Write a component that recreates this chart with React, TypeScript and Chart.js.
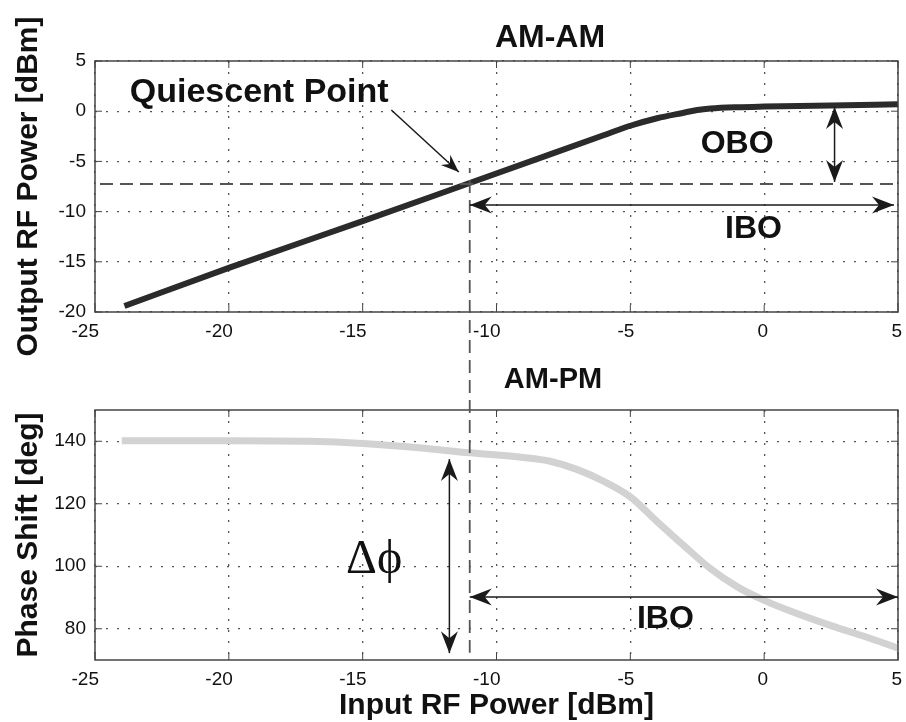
import React, { useEffect, useRef } from "react";
import { Chart, registerables } from "chart.js";

Chart.register(...registerables);

// ---------------- data ----------------
const X_TICKS = [-25, -20, -15, -10, -5, 0, 5];
const AMAM_TICKS = [-20, -15, -10, -5, 0, 5];
const AMPM_TICKS = [80, 100, 120, 140];

const AMAM_IN = [-23.9, -20, -15, -11, -8, -6, -5, -4, -3, -2.5, -2, -1, 0, 2.5, 5];
const AMAM_OUT = [-19.4, -15.6, -10.95, -7.15, -4.3, -2.4, -1.45, -0.7, -0.15, 0.12, 0.27, 0.4, 0.46, 0.56, 0.7];

const AMPM_IN = [-24, -20, -17, -15, -13, -11, -9, -8, -7, -6, -5, -4, -3, -2, -1, 0, 1, 2.5, 4, 5];
const AMPM_PHASE = [140.2, 140.2, 140, 139.3, 138, 136.3, 134.8, 133.6, 131, 127.2, 122.2, 114.3, 106.6, 99.2, 93.4, 89.1, 85.6, 81.0, 76.8, 73.8];

// annotation values (data units)
const Q_IN = -11;
const Q_OUT = -7.25;
const Q_MARK_TOP = -5.66;
const OBO_X = 2.63;
const OBO_TOP = 0.42;
const OBO_BOTTOM = -7.05;
const IBO_END = 4.85;
const IBO_AMAM_Y = -9.34;
const IBO_AMPM_Y = 90.2;
const DPHI_X = -11.76;
const DPHI_TOP = 134.3;
const DPHI_BOTTOM = 72.2;

const SANS = '"Liberation Sans", Arial, Helvetica, sans-serif';
const SERIF = '"Liberation Serif", "Times New Roman", serif';
const TEXT = "#111";

// ---------------- drawing helpers ----------------
function head(ctx: CanvasRenderingContext2D, tx: number, ty: number, fx: number, fy: number, len: number, half: number, notch: number) {
  const a = Math.atan2(ty - fy, tx - fx);
  const c = Math.cos(a), s = Math.sin(a);
  const bx = tx - len * c, by = ty - len * s;
  const nx = tx - notch * c, ny = ty - notch * s;
  ctx.beginPath();
  ctx.moveTo(tx, ty);
  ctx.lineTo(bx - half * s, by + half * c);
  ctx.lineTo(nx, ny);
  ctx.lineTo(bx + half * s, by - half * c);
  ctx.closePath();
  ctx.fill();
}

function arrow(ctx: CanvasRenderingContext2D, x1: number, y1: number, x2: number, y2: number, both: boolean, small = false) {
  ctx.save();
  ctx.setLineDash([]);
  ctx.strokeStyle = "#1a1a1a";
  ctx.fillStyle = "#1a1a1a";
  ctx.lineWidth = 1.5;
  ctx.beginPath();
  ctx.moveTo(x1, y1);
  ctx.lineTo(x2, y2);
  ctx.stroke();
  const L = small ? 18 : 22, H = small ? 7 : 8.5, N = small ? 12 : 15;
  head(ctx, x2, y2, x1, y1, L, H, N);
  if (both) head(ctx, x1, y1, x2, y2, L, H, N);
  ctx.restore();
}

function dashed(ctx: CanvasRenderingContext2D, x1: number, y1: number, x2: number, y2: number, phase: number) {
  ctx.save();
  ctx.strokeStyle = "#555";
  ctx.lineWidth = 1.8;
  ctx.setLineDash([13, 7]);
  ctx.lineDashOffset = ((phase % 20) + 20) % 20;
  ctx.beginPath();
  ctx.moveTo(x1, y1);
  ctx.lineTo(x2, y2);
  ctx.stroke();
  ctx.restore();
}

function label(ctx: CanvasRenderingContext2D, s: string, x: number, y: number, font: string, align: CanvasTextAlign = "center") {
  ctx.save();
  ctx.font = font;
  ctx.fillStyle = TEXT;
  ctx.textAlign = align;
  ctx.textBaseline = "alphabetic";
  ctx.fillText(s, x, y);
  ctx.restore();
}

const framePlugin = {
  id: "frame",
  afterDatasetsDraw(chart: any) {
    const { ctx, chartArea: a, scales } = chart;
    ctx.save();
    ctx.setLineDash([]);
    ctx.strokeStyle = "#444";
    ctx.lineWidth = 1.5;
    ctx.strokeRect(a.left, a.top, a.right - a.left, a.bottom - a.top);
    ctx.lineWidth = 1;
    const T = 7;
    ctx.beginPath();
    scales.x.ticks.forEach((t: any) => {
      const p = scales.x.getPixelForValue(t.value);
      ctx.moveTo(p, a.bottom); ctx.lineTo(p, a.bottom - T);
      ctx.moveTo(p, a.top); ctx.lineTo(p, a.top + T);
    });
    scales.y.ticks.forEach((t: any) => {
      const p = scales.y.getPixelForValue(t.value);
      ctx.moveTo(a.left, p); ctx.lineTo(a.left + T, p);
      ctx.moveTo(a.right, p); ctx.lineTo(a.right - T, p);
    });
    ctx.stroke();
    ctx.restore();
  },
};

const TOP_CANVAS_H = 372;
const BOTTOM_CANVAS_TOP = 340;
const BOTTOM_CANVAS_H = 382;
const JOIN_Y = 356; // page y where the quiescent marker passes from one canvas to the other

const topAnnotations = {
  id: "amamAnnotations",
  afterDatasetsDraw(chart: any) {
    const { ctx, scales } = chart;
    const X = (v: number) => scales.x.getPixelForValue(v);
    const Y = (v: number) => scales.y.getPixelForValue(v);
    dashed(ctx, X(-25), Y(Q_OUT), X(5), Y(Q_OUT), X(-25));
    dashed(ctx, X(Q_IN), Y(Q_MARK_TOP), X(Q_IN), JOIN_Y, Y(Q_MARK_TOP));
    arrow(ctx, X(-13.93), Y(0.12), X(-11.41), Y(-6.06), false, true);
    arrow(ctx, X(OBO_X), Y(OBO_TOP), X(OBO_X), Y(OBO_BOTTOM), true);
    arrow(ctx, X(Q_IN), Y(IBO_AMAM_Y), X(IBO_END), Y(IBO_AMAM_Y), true);
    label(ctx, "Quiescent Point", X(-23.7), Y(0.95), `bold 34px ${SANS}`, "left");
    label(ctx, "OBO", X(-1.01), Y(-4.19), `bold 32px ${SANS}`);
    label(ctx, "IBO", X(-0.4), Y(-12.63), `bold 32px ${SANS}`);
    label(ctx, "AM-AM", 550, 47, `bold 32px ${SANS}`);
  },
};

const bottomAnnotations = {
  id: "ampmAnnotations",
  afterDatasetsDraw(chart: any) {
    const { ctx, scales } = chart;
    const X = (v: number) => scales.x.getPixelForValue(v);
    const Y = (v: number) => scales.y.getPixelForValue(v);
    const startY = JOIN_Y - BOTTOM_CANVAS_TOP;
    dashed(ctx, X(Q_IN), startY, X(Q_IN), Y(DPHI_BOTTOM + 0.1), JOIN_Y);
    arrow(ctx, X(DPHI_X), Y(DPHI_TOP), X(DPHI_X), Y(DPHI_BOTTOM), true);
    arrow(ctx, X(Q_IN), Y(IBO_AMPM_Y), X(5), Y(IBO_AMPM_Y), true);
    label(ctx, "Δϕ", X(-14.57), Y(97.8), `48px ${SERIF}`);
    label(ctx, "IBO", X(-3.69), Y(80.2), `bold 32px ${SANS}`);
    label(ctx, "AM-PM", 553, 388 - BOTTOM_CANVAS_TOP, `bold 29px ${SANS}`);
  },
};

function xScale(height: number, withTitle: boolean) {
  return {
    type: "linear",
    min: -25,
    max: 5,
    afterBuildTicks: (s: any) => { s.ticks = X_TICKS.map((v) => ({ value: v })); },
    afterFit: (s: any) => { s.height = height; },
    grid: { color: "#555", lineWidth: 1.3, drawTicks: false },
    border: { display: false, dash: [2, 9] },
    ticks: {
      align: "end",
      labelOffset: 4,
      padding: 8,
      color: TEXT,
      autoSkip: false,
      maxRotation: 0,
      font: { family: SANS, size: 19 },
    },
    title: {
      display: withTitle,
      text: "Input RF Power [dBm]",
      color: TEXT,
      font: { family: SANS, size: 30, weight: "bold", lineHeight: 1 },
      padding: { top: 0, bottom: 1 },
    },
  };
}

function yScale(min: number, max: number, ticks: number[], title: string) {
  return {
    type: "linear",
    min,
    max,
    afterBuildTicks: (s: any) => { s.ticks = ticks.map((v) => ({ value: v })); },
    afterFit: (s: any) => { s.width = 95; },
    grid: { color: "#555", lineWidth: 1.3, drawTicks: false },
    border: { display: false, dash: [2, 9] },
    ticks: { padding: 9, color: TEXT, font: { family: SANS, size: 19 } },
    title: {
      display: true,
      text: title,
      color: TEXT,
      font: { family: SANS, size: 30, weight: "bold", lineHeight: 1 },
      padding: { top: 14, bottom: 0 },
    },
  };
}

const commonOptions = {
  responsive: false,
  animation: false,
  events: [],
  plugins: { legend: { display: false }, tooltip: { enabled: false }, title: { display: false } },
};

export default function App() {
  const topRef = useRef<HTMLCanvasElement>(null);
  const botRef = useRef<HTMLCanvasElement>(null);

  useEffect(() => {
    const c1 = new Chart(topRef.current as HTMLCanvasElement, {
      type: "line",
      data: {
        datasets: [
          {
            label: "AM-AM",
            data: AMAM_IN.map((x, i) => ({ x, y: AMAM_OUT[i] })),
            borderColor: "#2b2b2b",
            borderWidth: 6,
            pointRadius: 0,
            fill: false,
            cubicInterpolationMode: "monotone",
          },
        ],
      },
      options: {
        ...commonOptions,
        layout: { padding: { top: 61, right: 3, left: 0, bottom: 0 } },
        scales: {
          x: xScale(TOP_CANVAS_H - 312, false),
          y: yScale(-20, 5, AMAM_TICKS, "Output RF Power [dBm]"),
        },
      } as any,
      plugins: [framePlugin, topAnnotations],
    });

    const c2 = new Chart(botRef.current as HTMLCanvasElement, {
      type: "line",
      data: {
        datasets: [
          {
            label: "AM-PM",
            data: AMPM_IN.map((x, i) => ({ x, y: AMPM_PHASE[i] })),
            borderColor: "#d2d2d2",
            borderWidth: 7,
            pointRadius: 0,
            fill: false,
            cubicInterpolationMode: "monotone",
          },
        ],
      },
      options: {
        ...commonOptions,
        layout: { padding: { top: 70, right: 3, left: 0, bottom: 0 } },
        scales: {
          x: xScale(BOTTOM_CANVAS_H - 320, true),
          y: yScale(70, 150, AMPM_TICKS, "Phase Shift [deg]"),
        },
      } as any,
      plugins: [framePlugin, bottomAnnotations],
    });

    return () => {
      c1.destroy();
      c2.destroy();
    };
  }, []);

  return (
    <div style={{ position: "absolute", left: 0, top: 0, width: 906, height: 722, background: "#fff", overflow: "hidden" }}>
      <canvas ref={topRef} width={906} height={TOP_CANVAS_H} style={{ position: "absolute", left: 0, top: 0, display: "block" }} />
      <canvas ref={botRef} width={906} height={BOTTOM_CANVAS_H} style={{ position: "absolute", left: 0, top: BOTTOM_CANVAS_TOP, display: "block" }} />
    </div>
  );
}
